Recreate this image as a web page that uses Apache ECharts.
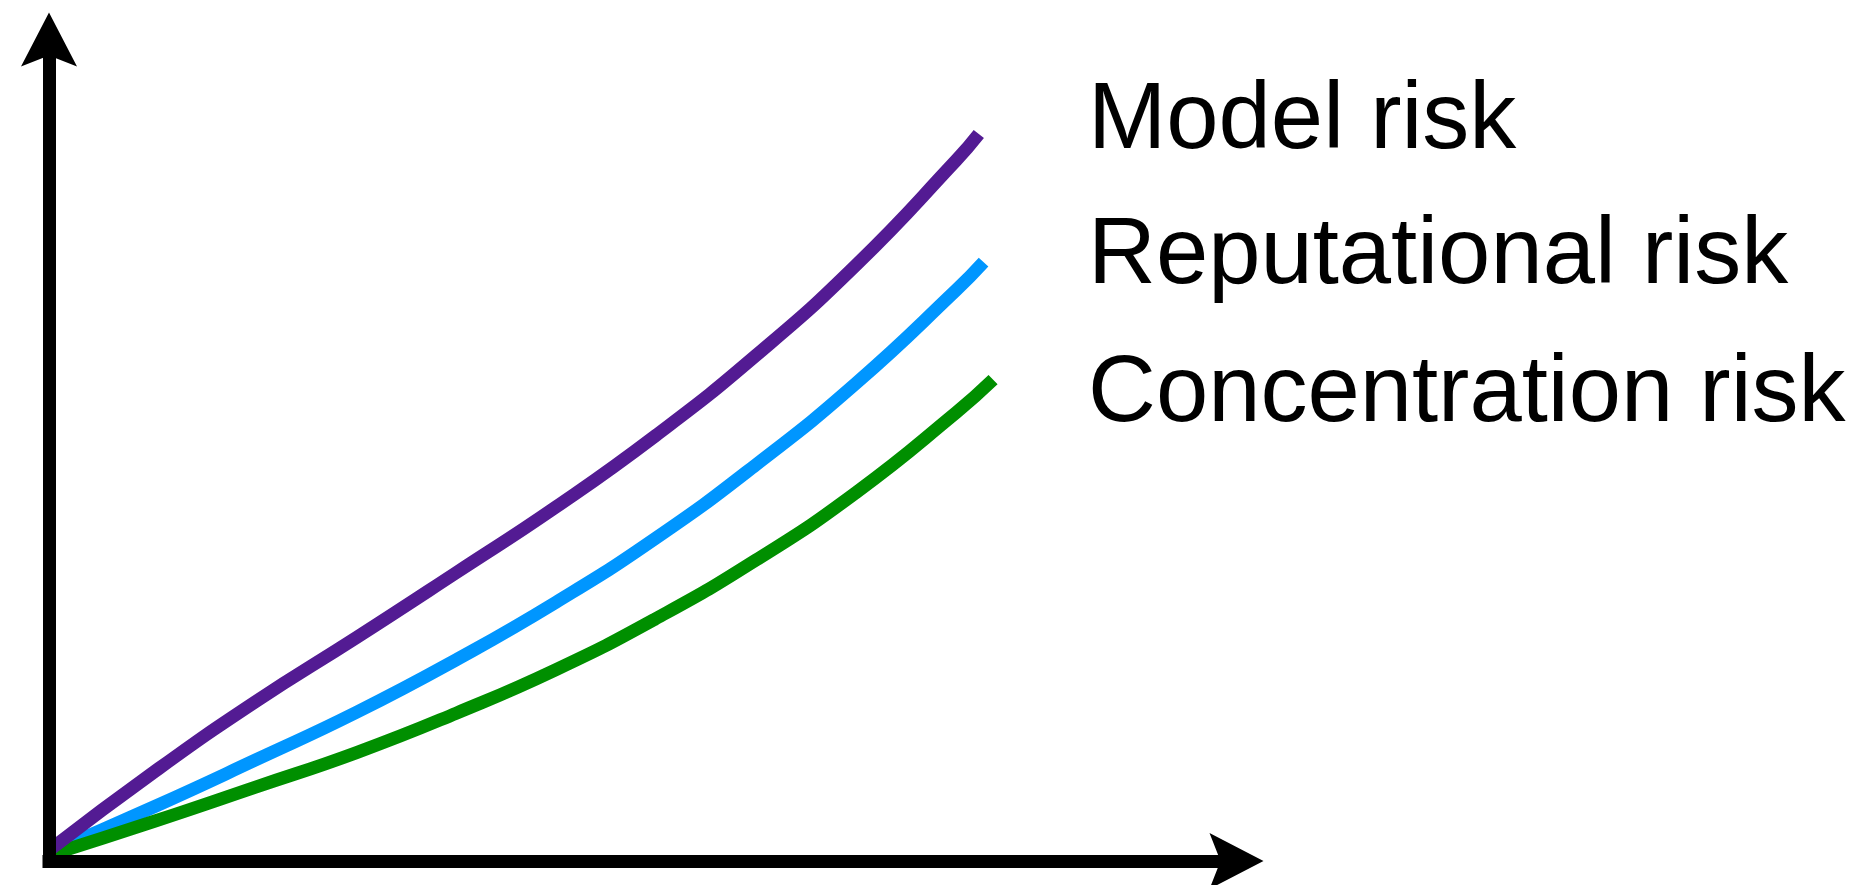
<!DOCTYPE html>
<html>
<head>
<meta charset="utf-8">
<title>Risk curves</title>
<script src="https://cdn.jsdelivr.net/npm/echarts@6/dist/echarts.min.js"></script>
<style>
  html, body { margin: 0; padding: 0; background: #fff; }
  #chart { width: 1869px; height: 885px; }
</style>
</head>
<body>
<div id="chart"></div>
<script>
  // series names (labels on the right)
  var seriesNames = ['Model risk', 'Reputational risk', 'Concentration risk'];

  // values, x and y both on a 0-100 scale
  var modelX = [0, 9.0, 17.4, 25.9, 34.3, 42.7, 51.1, 59.5, 68.0, 76.4, 78.3];
  var modelY = [1.3, 11.0, 19.4, 27.2, 35.1, 43.1, 51.8, 61.5, 72.6, 85.3, 88.5];

  var reputationalX = [0, 9.0, 17.4, 25.9, 34.3, 42.7, 51.1, 59.5, 68.0, 76.4, 78.7];
  var reputationalY = [1.0, 6.7, 12.3, 18.1, 24.5, 31.5, 39.3, 48.2, 58.2, 69.5, 72.9];

  var concentrationX = [0, 9.0, 17.4, 25.9, 34.3, 42.7, 51.1, 59.5, 68.0, 76.4, 79.5];
  var concentrationY = [0.7, 4.9, 9.0, 13.2, 18.0, 23.3, 29.5, 36.6, 44.9, 54.6, 58.6];

  var colors = ['#531B93', '#0096FF', '#008F00'];

  function pairs(xs, ys) {
    return xs.map(function (x, i) { return [x, ys[i]]; });
  }

  // arrow head at the end of each axis
  var axisLine = {
    show: true,
    symbol: ['none', 'path://M28,0 L56,54 L28,43 L0,54 Z'],
    symbolSize: [56, 54],
    lineStyle: { color: '#000', width: 13, cap: 'square' }
  };

  var option = {
    animation: false,
    backgroundColor: '#fff',
    grid: { left: 49, top: 39.5, right: 632.5, bottom: 24 },
    xAxis: {
      type: 'value', min: 0, max: 100, z: 5,
      axisLine: axisLine,
      axisTick: { show: false }, axisLabel: { show: false }, splitLine: { show: false }
    },
    yAxis: {
      type: 'value', min: 0, max: 100, z: 5,
      axisLine: axisLine,
      axisTick: { show: false }, axisLabel: { show: false }, splitLine: { show: false }
    },
    series: [
      { name: seriesNames[1], type: 'line', smooth: true, showSymbol: false, data: pairs(reputationalX, reputationalY),
        lineStyle: { color: colors[1], width: 13 } },
      { name: seriesNames[2], type: 'line', smooth: true, showSymbol: false, data: pairs(concentrationX, concentrationY),
        lineStyle: { color: colors[2], width: 13 } },
      { name: seriesNames[0], type: 'line', smooth: true, showSymbol: false, data: pairs(modelX, modelY),
        lineStyle: { color: colors[0], width: 13 } }
    ],
    // labels beside the curves
    graphic: seriesNames.map(function (name, i) {
      return {
        type: 'text', left: 1088, top: [75, 210, 348][i],
        style: { text: name, fill: '#000', font: '94px "Liberation Sans", Arial, sans-serif' }
      };
    })
  };

  var myChart = echarts.init(document.getElementById('chart'));
  myChart.setOption(option);
</script>
</body>
</html>
